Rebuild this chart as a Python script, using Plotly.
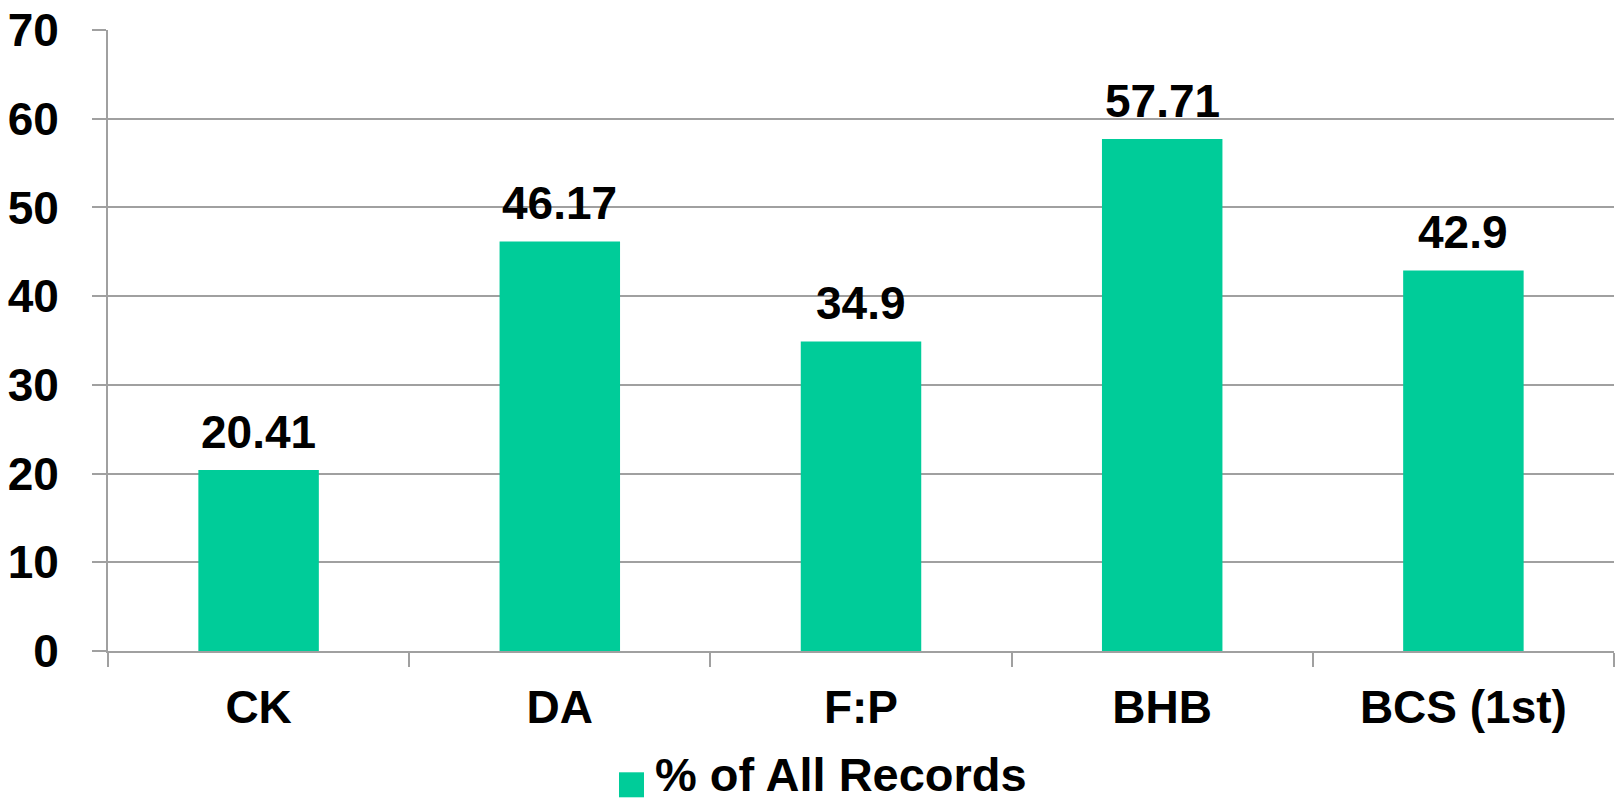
import plotly.graph_objects as go

categories = ["CK", "DA", "F:P", "BHB", "BCS (1st)"]
values = [20.41, 46.17, 34.9, 57.71, 42.9]
series_name = "% of All Records"
y_ticks = [0, 10, 20, 30, 40, 50, 60, 70]

BAR_COLOR = "#00CC99"
GRID = "#A0A0A0"
FONT = "Liberation Sans, Arial, sans-serif"

fig = go.Figure()
fig.add_trace(go.Bar(
    x=categories,
    y=values,
    name=series_name,
    marker=dict(color=BAR_COLOR, line=dict(width=0)),
    showlegend=False,
))

# Value labels above each bar
for cat, val in zip(categories, values):
    fig.add_annotation(
        x=cat, y=val, xref="x", yref="y",
        text=f"{val:g}", showarrow=False,
        xanchor="center", yanchor="bottom", yshift=10,
        font=dict(family=FONT, size=46, color="black", weight="bold"),
    )

fig.update_layout(
    width=1615,
    height=805,
    margin=dict(l=108, r=1, t=30, b=154),
    paper_bgcolor="white",
    plot_bgcolor="white",
    bargap=0.6,
    font=dict(family=FONT, size=46, color="black", weight="bold"),
    xaxis=dict(
        type="category",
        showline=True,
        linecolor=GRID,
        linewidth=2,
        ticks="outside",
        tickson="boundaries",
        ticklen=14,
        tickcolor=GRID,
        tickwidth=2,
        ticklabelstandoff=15,
        tickfont=dict(family=FONT, size=46, color="black", weight="bold"),
    ),
    yaxis=dict(
        range=[0, 70],
        tickvals=y_ticks,
        showgrid=True,
        gridcolor=GRID,
        gridwidth=2,
        showline=True,
        linecolor=GRID,
        linewidth=2,
        ticks="outside",
        ticklen=14,
        tickcolor=GRID,
        tickwidth=2,
        ticklabelstandoff=24,
        zeroline=False,
        tickfont=dict(family=FONT, size=46, color="black", weight="bold"),
    ),
)

# Legend entry: colour swatch and series name below the axis
fig.add_shape(
    type="rect", xref="paper", yref="paper",
    x0=(619 - 108) / 1506, x1=(644 - 108) / 1506,
    y0=(650.7 - 797) / 621, y1=(650.7 - 772) / 621,
    fillcolor=BAR_COLOR, line=dict(width=0),
)
fig.add_annotation(
    xref="paper", yref="paper",
    x=(653 - 108) / 1506, y=(650.7 - 774) / 621,
    xanchor="left", yanchor="middle",
    text=series_name, showarrow=False,
    font=dict(family=FONT, size=47, color="black", weight="bold"),
)

fig.write_html("out.html")
